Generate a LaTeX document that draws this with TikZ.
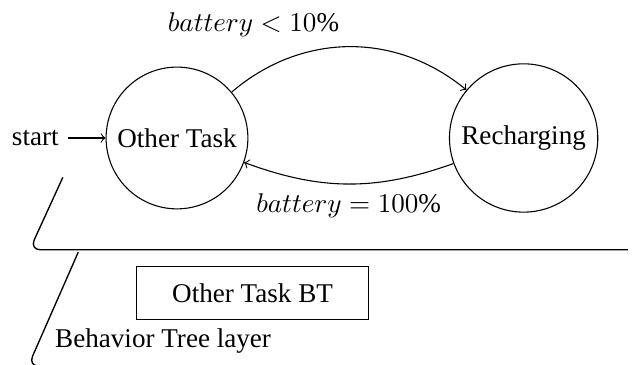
\documentclass[tikz,border=0pt]{standalone}
\usepackage{amsmath}
\usepackage{fontspec}
\setmainfont{Liberation Serif}
\usepackage{tikz}
\usetikzlibrary{automata,positioning}
\tikzstyle{layer}  =[rounded corners=4pt, line width=0.5pt]
\tikzstyle{btbox}  =[draw, rectangle, minimum width=3cm,
                    minimum height=0.68cm, inner sep=3pt]

\begin{document}
\begin{tikzpicture}[>=to]
    \useasboundingbox (-2.295,-2.931) rectangle (5.965,1.789);

    % state machine layer
    \node[state, initial, initial text=start] (other) {Other Task};
    \node[state, right=2.6cm of other] (recharge) {Recharging};

    \path[->] (other) edge[bend left=40] node[above left] {$battery < 10\%$} (recharge)
              (recharge) edge[bend left=20] node[below] {$battery = 100\%$} (other);

    % behavior tree layer
    \draw[layer] (-1.48,-0.51) -- (-1.91,-1.45) -- (5.85,-1.45);
    \draw[layer] (-1.28,-1.48) -- (-1.93,-2.96) -- (5.85,-2.96);

    \node[btbox] (bt) at (0.98,-2.01) {Other Task BT};
    \node (btlayer) at (-0.18,-2.63) {Behavior Tree layer};
\end{tikzpicture}
\end{document}
